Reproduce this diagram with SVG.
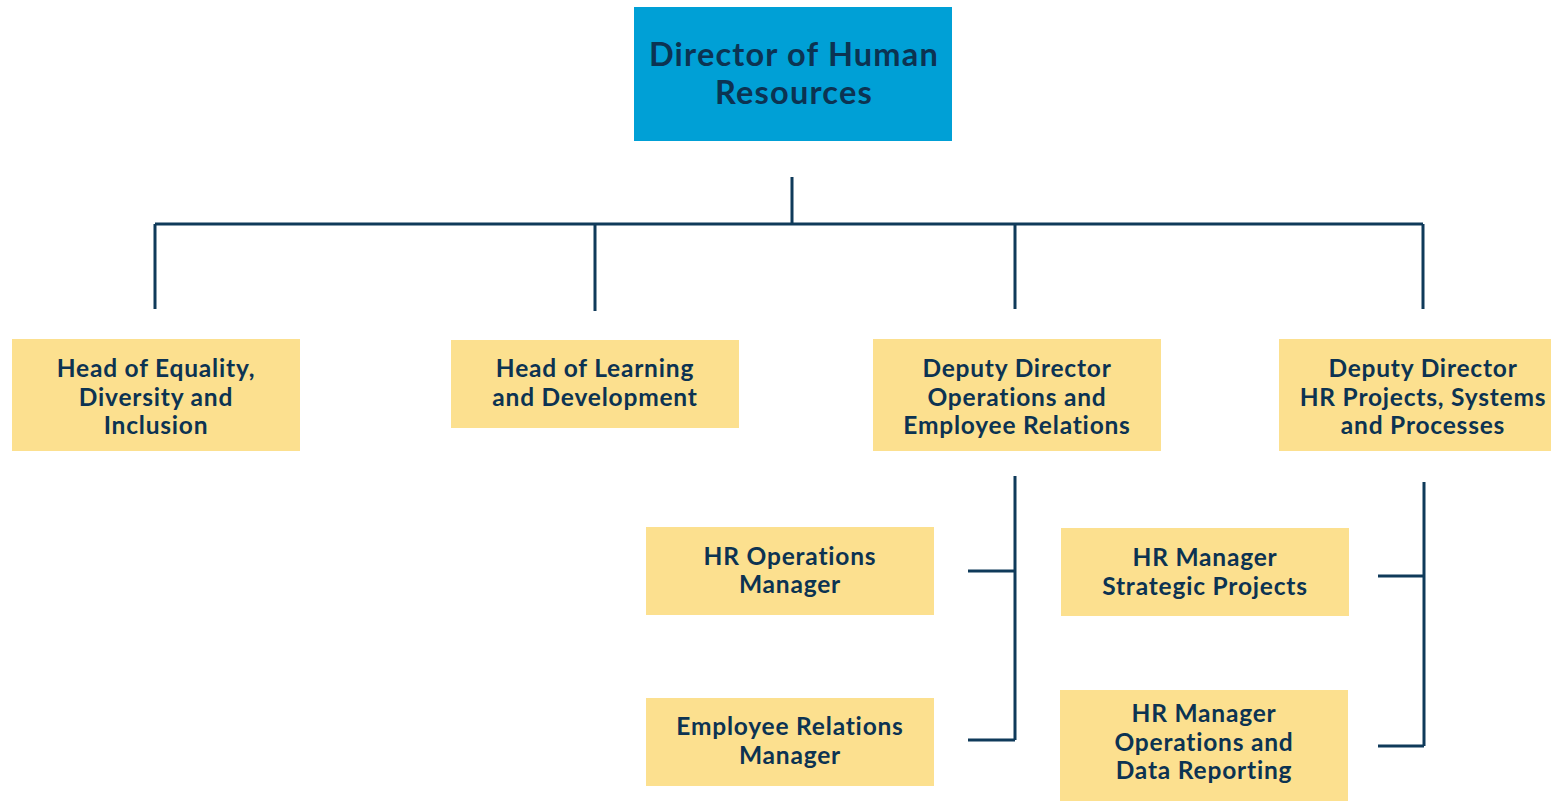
<svg xmlns="http://www.w3.org/2000/svg" width="1551" height="803" viewBox="0 0 1551 803">
<style>
.y{fill:#fce08f}
.t{font-family:Lato,"Liberation Sans",sans-serif;font-weight:bold;fill:#0c3352;text-anchor:middle;font-size:24.5px;letter-spacing:0.8px}
.tb{font-size:32.5px;letter-spacing:1.2px}
.c{stroke:#0f3a5a;stroke-width:3;fill:none}
</style>
<rect width="1551" height="803" fill="#fff"/>
<g id="connectors" class="c">
<path d="M792 177V224M155 224H1423M155 224V309M595 224V311M1015 224V309M1423 224V309"/>
<path d="M1015 476V740M968 571H1015M968 740H1015"/>
<path d="M1424 482V746M1378 576H1424M1378 746H1424"/>
</g>
<g id="director">
<rect x="634" y="7" width="318" height="134" fill="#00a0d6"/>
<text class="t tb" x="794" y="66">Director of Human</text>
<text class="t tb" x="794" y="104">Resources</text>
</g>
<g id="edi">
<rect class="y" x="12" y="339" width="288" height="112"/>
<text class="t" x="156" y="377">Head of Equality,</text>
<text class="t" x="156" y="406">Diversity and</text>
<text class="t" x="156" y="434">Inclusion</text>
</g>
<g id="learning">
<rect class="y" x="451" y="340" width="288" height="88"/>
<text class="t" x="595" y="377">Head of Learning</text>
<text class="t" x="595" y="406">and Development</text>
</g>
<g id="ops-er">
<rect class="y" x="873" y="339" width="288" height="112"/>
<text class="t" x="1017" y="377">Deputy Director</text>
<text class="t" x="1017" y="406">Operations and</text>
<text class="t" x="1017" y="434">Employee Relations</text>
</g>
<g id="projects">
<rect class="y" x="1279" y="339" width="272" height="112"/>
<text class="t" x="1423" y="377">Deputy Director</text>
<text class="t" x="1423" y="406">HR Projects, Systems</text>
<text class="t" x="1423" y="434">and Processes</text>
</g>
<g id="hr-ops">
<rect class="y" x="646" y="527" width="288" height="88"/>
<text class="t" x="790" y="565">HR Operations</text>
<text class="t" x="790" y="593">Manager</text>
</g>
<g id="er-manager">
<rect class="y" x="646" y="698" width="288" height="88"/>
<text class="t" x="790" y="735">Employee Relations</text>
<text class="t" x="790" y="764">Manager</text>
</g>
<g id="strategic">
<rect class="y" x="1061" y="528" width="288" height="88"/>
<text class="t" x="1205" y="566">HR Manager</text>
<text class="t" x="1205" y="595">Strategic Projects</text>
</g>
<g id="data">
<rect class="y" x="1060" y="690" width="288" height="111"/>
<text class="t" x="1204" y="722">HR Manager</text>
<text class="t" x="1204" y="751">Operations and</text>
<text class="t" x="1204" y="779">Data Reporting</text>
</g>
</svg>
